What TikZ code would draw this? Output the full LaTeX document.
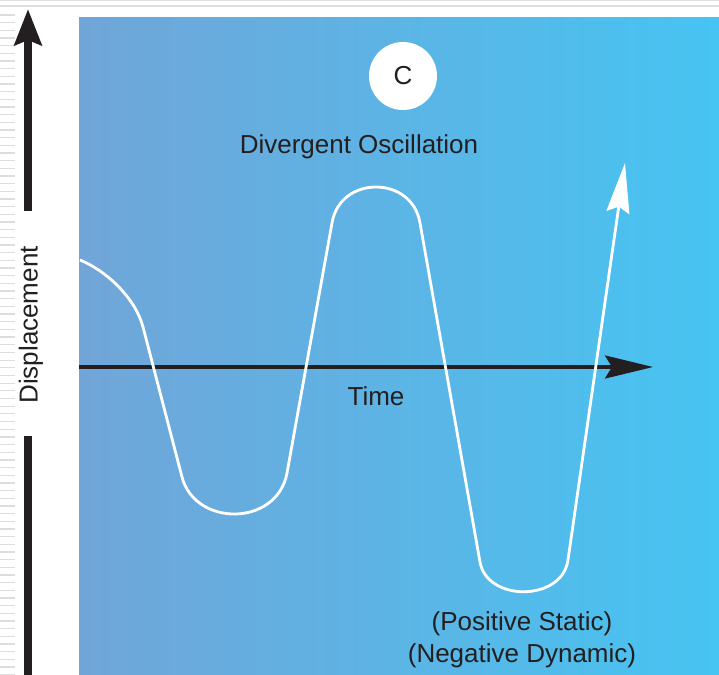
\documentclass[tikz,border=0pt]{standalone}
\usepackage{fontspec}
\setmainfont{Liberation Sans}
\usetikzlibrary{arrows.meta}
\definecolor{ink}{HTML}{231F20}
\definecolor{bluel}{HTML}{71A5D8}
\definecolor{bluer}{HTML}{46C4F2}
\definecolor{stripe}{HTML}{DDDDDD}
\tikzset{
  lbl/.style={font=\fontsize{13}{15}\selectfont, text=ink, inner sep=0pt, anchor=base},
  curve/.style={draw=white, line width=1.4pt, line join=round},
  axis/.style={draw=ink, line width=1.6pt},
  stripeline/.style={draw=stripe, line width=0.65pt},
}
\begin{document}
\begin{tikzpicture}[x=0.5pt, y=-0.5pt]
\useasboundingbox (0,0) rectangle (719,675);
\fill[white] (0,0) rectangle (719,675);
% top rules
\draw[draw=black!12, line width=0.5pt] (0,0.5) -- (719,0.5);
\draw[draw=black!13, line width=1.1pt] (0,6.2) -- (719,6.2);
% left stripes
\foreach \i in {0,...,86} {
  \draw[stripeline] (0,15+7.67*\i) -- (15,15+7.67*\i);
}
% blue panel
\shade[left color=bluel, right color=bluer] (79,17) rectangle (719,675);
% vertical displacement axis
\coordinate (vb) at (28,675);
\coordinate (vg1) at (28,436);
\coordinate (vg2) at (28,211);
\coordinate (vt) at (28,9);
\draw[draw=ink, line width=4.1pt] (vb) -- (vg1);
\draw[draw=ink, line width=4.1pt, -{Stealth[length=18pt, width=13.5pt, inset=2.5pt]}] (vg2) -- (vt);
\node[lbl, anchor=center, rotate=90] (disp) at (31,325) {Displacement};
% time axis
\coordinate (t0) at (79,367);
\coordinate (t1) at (653,367);
\draw[axis, -{Stealth[length=24pt, width=11.5pt, inset=3.5pt]}] (t0) -- (t1);
\node[lbl] (time) at (376,405) {Time};
% oscillation curve
\coordinate (p0) at (80,260);
\coordinate (p1) at (143,327);
\coordinate (p2) at (182,477);
\coordinate (p3) at (287,473);
\coordinate (p4) at (332,223);
\coordinate (p5) at (420,223);
\coordinate (p6) at (480,562);
\coordinate (p7) at (568,560);
\coordinate (p8) at (625,163);
\draw[curve] (p0) .. controls (105,270) and (135,297) .. (p1)
  -- (p2) .. controls (195,527) and (277,527) .. (p3)
  -- (p4) .. controls (340,175) and (412,175) .. (p5)
  -- (p6) .. controls (487,602) and (562,602) .. (p7);
\draw[curve, -{Stealth[length=25pt, width=11.5pt, inset=3pt]}] (p7) -- (p8);
% badge and labels
\node[circle, fill=white, minimum size=34pt, inner sep=0pt] (badge) at (403,76) {};
\node[lbl] (clab) at (403,84) {C};
\node[lbl] (title) at (359,153) {Divergent Oscillation};
\node[lbl] (pos) at (522,630) {(Positive Static)};
\node[lbl] (neg) at (522,662) {(Negative Dynamic)};
\end{tikzpicture}
\end{document}
